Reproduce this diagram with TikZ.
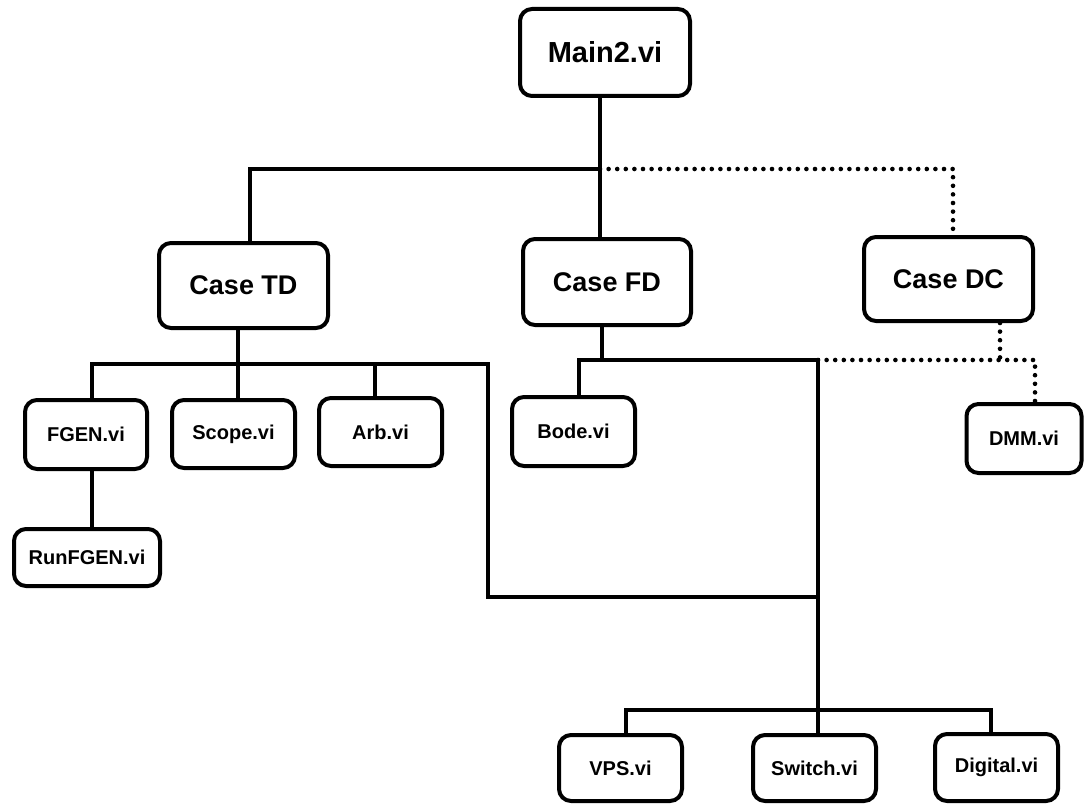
\documentclass[tikz,border=0pt]{standalone}
\usepackage{fontspec}
\setmainfont{Liberation Sans}
\begin{document}
\begin{tikzpicture}[x=1pt,y=-1pt,
  box/.style={draw, line width=4pt, rounded corners=12pt, inner sep=0pt,
    font=\bfseries\fontsize{20}{23}\selectfont},
  bigbox/.style={box, font=\bfseries\fontsize{27}{31}\selectfont},
  mainbox/.style={box, font=\bfseries\fontsize{29}{33}\selectfont},
  conn/.style={line width=4pt},
  dotl/.style={line width=4.6pt, line cap=round, dash pattern=on 0pt off 8.6pt}]
\useasboundingbox (0,0) rectangle (1086,805);
% nodes
\node[mainbox, minimum width=170pt, minimum height=87pt] (main) at (605,52.5) {Main2.vi};
\node[bigbox, minimum width=169pt, minimum height=85pt] (TD) at (243.5,285.5) {Case TD};
\node[bigbox, minimum width=168pt, minimum height=86pt] (FD) at (607,282) {Case FD};
\node[bigbox, minimum width=169pt, minimum height=84pt] (DC) at (948.5,279) {Case DC};
\node[box, minimum width=122pt, minimum height=69pt] (FGEN) at (86,434.5) {FGEN.vi};
\node[box, minimum width=123pt, minimum height=68pt] (Scope) at (233.5,434) {Scope.vi};
\node[box, minimum width=123pt, minimum height=68pt] (Arb) at (380.5,432) {Arb.vi};
\node[box, minimum width=123pt, minimum height=69pt] (Bode) at (573.5,431.5) {Bode.vi};
\node[box, minimum width=115pt, minimum height=69pt] (DMM) at (1024,438.5) {DMM.vi};
\node[box, minimum width=146pt, minimum height=57pt] (RunFGEN) at (87,557.5) {RunFGEN.vi};
\node[box, minimum width=123pt, minimum height=66pt] (VPS) at (620.5,768) {VPS.vi};
\node[box, minimum width=123pt, minimum height=66pt] (Switch) at (814.5,768) {Switch.vi};
\node[box, minimum width=123pt, minimum height=67pt] (Digital) at (996.5,767.5) {Digital.vi};
% junction coordinates
\coordinate (j0) at (600,169);
\coordinate (c1) at (250,169);
\coordinate (c2) at (953,169);
\coordinate (t0) at (238,364);
\coordinate (tL) at (92,364);
\coordinate (tA) at (375,364);
\coordinate (tR) at (488,364);
\coordinate (tRb) at (488,597);
\coordinate (m1) at (818,597);
\coordinate (f0) at (602,360);
\coordinate (fL) at (579,360);
\coordinate (fR) at (818,360);
\coordinate (b0) at (818,710);
\coordinate (bL) at (626,710);
\coordinate (bR) at (991,710);
\coordinate (d0) at (1000,360);
\coordinate (dR) at (1035,360);
% top level
\draw[conn] (main.south -| j0) -- (FD.north -| j0);
\draw[conn] (j0) -- (c1) -- (c1 |- TD.north);
\draw[dotl] (j0) -- (c2) -- (c2 |- DC.north);
% Case TD
\draw[conn] (TD.south -| t0) -- (t0);
\draw[conn] (FGEN.north -| tL) -- (tL) -- (tR) -- (tRb) -- (m1);
\draw[conn] (t0) -- (Scope.north -| t0);
\draw[conn] (tA) -- (Arb.north -| tA);
\draw[conn] (FGEN.south -| tL) -- (RunFGEN.north -| tL);
% Case FD
\draw[conn] (FD.south -| f0) -- (f0);
\draw[conn] (Bode.north -| fL) -- (fL) -- (fR) -- (b0);
\draw[conn] (VPS.north -| bL) -- (bL) -- (bR) -- (Digital.north -| bR);
\draw[conn] (b0) -- (Switch.north -| b0);
% Case DC
\draw[dotl] (fR) -- (dR) -- (DMM.north -| dR);
\draw[dotl] (DC.south -| d0) -- (d0);
\end{tikzpicture}
\end{document}
